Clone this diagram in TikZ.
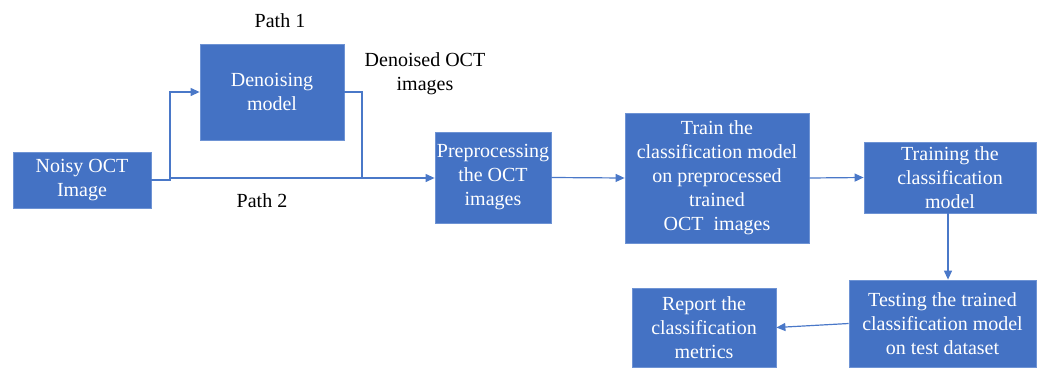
\documentclass[tikz,border=0pt]{standalone}
\usepackage{fontspec}
\setmainfont{Liberation Serif}
\usetikzlibrary{arrows.meta}
\definecolor{boxblue}{HTML}{4472C4}
\definecolor{edgeblue}{HTML}{6E93D4}
\definecolor{lineblue}{HTML}{4A78C8}
\tikzset{
  blk/.style={fill=boxblue, draw=edgeblue, line width=0.8pt, text=white, align=center, inner sep=0pt,
    font=\fontsize{20}{24}\selectfont},
  lbl/.style={text=black, align=center, inner sep=0pt, font=\fontsize{20}{24}\selectfont},
  conn/.style={draw=lineblue, line width=1.2pt, -{Triangle[length=9pt,width=8pt]}},
  plain/.style={draw=lineblue, line width=1.2pt}
}
\begin{document}
\begin{tikzpicture}[x=1pt,y=-1pt]
\useasboundingbox (0,0) rectangle (1038,367);
\node[blk, minimum width=138pt, minimum height=56pt] (noisy) at (82,180) {Noisy OCT\\Image};
\node[blk, minimum width=144pt, minimum height=96pt] (denoise) at (272,92) {Denoising\\model};
\node[blk, minimum width=116pt, minimum height=91pt] (prep) at (493,177.5) {Preprocessing\\the OCT\\images};
\node[blk, minimum width=184pt, minimum height=130pt] (train) at (717,178) {Train the\\classification model\\on preprocessed\\trained\\OCT\ \ images};
\node[blk, minimum width=172pt, minimum height=71pt] (training) at (950,177.5) {Training the\\classification\\model};
\node[blk, minimum width=187pt, minimum height=87pt] (testing) at (942.5,323.5) {Testing the trained\\classification model\\on test dataset};
\node[blk, minimum width=144pt, minimum height=79pt] (report) at (704,327.5) {Report the\\classification\\metrics};

\node[lbl] (p1) at (280,21) {Path 1};
\node[lbl] (den) at (425,74) {Denoised OCT\\images};
\node[lbl] (p2) at (262,201) {Path 2};

\coordinate (split) at (170,178);
\coordinate (join) at (362,178);
\draw[plain] (noisy.east) -- (170,180) -- (split);
\draw[conn] (split) |- (denoise.west);
\draw[conn] (split) -- (prep.west |- split);
\draw[plain] (denoise.east) -| (join);
\draw[conn] (prep.east) -- (train.west);
\draw[conn] (train.east) -- (training.west);
\draw[conn] (training.south -| 948,0) -- (testing.north -| 948,0);
\draw[conn] (testing.west) -- (report.east);
\end{tikzpicture}
\end{document}
